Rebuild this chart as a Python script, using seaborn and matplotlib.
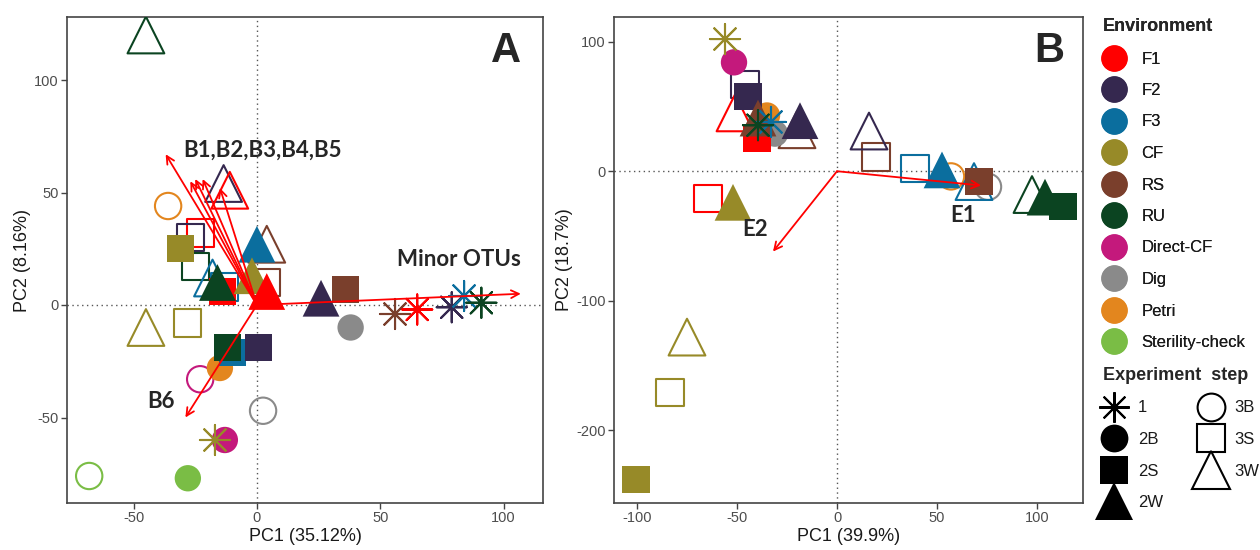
import pandas as pd
import matplotlib
matplotlib.use('Agg')
import matplotlib.pyplot as plt
import seaborn as sns
from matplotlib.lines import Line2D

# Environment levels and colours
env_names = ['F1', 'F2', 'F3', 'CF', 'RS', 'RU', 'Direct-CF', 'Dig', 'Petri', 'Sterility-check']
env_colors = ['#FF0000', '#35284F', '#0B6E9E', '#978A28', '#7A3F2C', '#0B4421',
              '#C4197C', '#8A8A8A', '#E3861E', '#7ABD45']
step_names = ['1', '2B', '2S', '2W', '3B', '3S', '3W']

# Panel A scores
a_env = ['RU', 'F2', 'F1', 'Petri', 'F1', 'F2', 'CF', 'RU', 'F3', 'RS',
         'F3', 'F3', 'F1', 'RU', 'CF', 'RS', 'F1', 'F2', 'RS', 'Dig',
         'CF', 'CF', 'F3', 'RU', 'F2', 'Petri', 'Direct-CF', 'Dig', 'CF', 'Direct-CF',
         'Sterility-check', 'Sterility-check', 'RS', 'F1', 'F2', 'F3', 'RU']
a_step = ['3W', '3W', '3W', '3B', '3S', '3S', '2S', '3S', '2W', '3W',
          '3W', '3S', '2S', '2W', '2W', '3S', '2W', '2W', '2S', '2B',
          '3W', '3S', '2S', '2S', '2S', '2B', '3B', '3B', '1', '2B',
          '3B', '2B', '1', '1', '1', '1', '1']
a_x = [-45, -13.5, -11, -36, -23, -27, -31, -25, 0, 4,
       -18, -13, -14, -16, -2, 4, 4, 26, 36, 38,
       -45, -28, -10, -12, 0.5, -15, -23, 2.5, -17, -13,
       -68, -28, 56, 65, 79, 84, 91]
a_y = [120, 54, 51, 44, 32, 30, 25, 17, 27, 27,
       12, 8, 6, 10, 13, 10, 6, 3, 7, -10,
       -10, -8, -21, -19, -19, -28, -33, -47, -60, -60,
       -76, -77, -4, -2, -1, 4, 1]

# Panel B scores
b_env = ['CF', 'Direct-CF', 'F2', 'F2', 'F1', 'RS', 'F1', 'Petri', 'Dig', 'F3',
         'RU', 'F2', 'RS', 'F2', 'RS', 'F3', 'F3', 'Petri', 'F3', 'RS',
         'Dig', 'RU', 'RU', 'RU', 'F1', 'CF', 'CF', 'CF', 'CF']
b_step = ['1', '2B', '3S', '2S', '3W', '2W', '2S', '2B', '2B', '1',
          '1', '2W', '3W', '3W', '3S', '3S', '2W', '3B', '3W', '2S',
          '3B', '3W', '2W', '2S', '3S', '2W', '3W', '3S', '2S']
b_x = [-56, -51.5, -46, -44.5, -51, -39.5, -40, -35, -31, -33,
       -39.5, -18.5, -20, 16, 19.5, 39, 52.5, 57, 68.5, 71,
       75.5, 97.5, 104, 113, -64.5, -52, -75, -83.5, -100.5]
b_y = [102, 84, 67, 58, 45, 41, 25, 43, 29, 38,
       35.5, 39, 32, 31, 11, 2, 1, -4, -8, -8,
       -12, -18, -20, -27, -21, -24, -128, -171, -238]

# Loading arrows
a_arrow_x = [-37, -27, -25, -22, -15, -29, 107]
a_arrow_y = [67, 55, 56, 56, 52, -50, 5]
b_arrow_x = [72, -32]
b_arrow_y = [-11, -62]

a_labels = ['B1,B2,B3,B4,B5', 'B6', 'Minor OTUs']
a_label_x = [-30, -39, 82]
a_label_y = [69, -43, 20]
b_labels = ['E1', 'E2']
b_label_x = [63, -41]
b_label_y = [-34, -45]

palette = dict(zip(env_names, env_colors))

ASTER = (8, 2, 0)
step_style = {
    '1': dict(marker=ASTER, s=470, kind='line'),
    '2B': dict(marker='o', s=360, kind='filled'),
    '2S': dict(marker='s', s=380, kind='filled'),
    '2W': dict(marker='^', s=700, kind='filled'),
    '3B': dict(marker='o', s=360, kind='open'),
    '3S': dict(marker='s', s=380, kind='open'),
    '3W': dict(marker='^', s=700, kind='open'),
}
draw_order = ['3B', '3S', '3W', '2B', '2S', '2W', '1']

sns.set_style('white')
plt.rcParams['font.family'] = ['Liberation Sans', 'DejaVu Sans']
plt.rcParams['axes.unicode_minus'] = False

fig = plt.figure(figsize=(12.6, 5.5), dpi=100)
axA = fig.add_axes([67 / 1260, 1 - 503 / 550, 476 / 1260, 486 / 550])
axB = fig.add_axes([614 / 1260, 1 - 503 / 550, 469 / 1260, 486 / 550])


def draw_panel(ax, env, step, xs, ys):
    df = pd.DataFrame({'env': env, 'step': step, 'x': xs, 'y': ys})
    for st in draw_order:
        sub = df[df['step'] == st]
        if sub.empty:
            continue
        sty = step_style[st]
        sns.scatterplot(data=sub, x='x', y='y', hue='env', palette=palette,
                        marker=sty['marker'], s=sty['s'],
                        linewidth=0 if sty['kind'] == 'filled' else 1.5,
                        legend=False, ax=ax, zorder=3)
        coll = ax.collections[-1]
        if sty['kind'] != 'filled':
            fc = coll.get_facecolors().copy()
            coll.set_edgecolors(fc)
            coll.set_facecolors('none')
            coll.set_linewidths(1.5)
        else:
            coll.set_edgecolors('none')
    ax.axhline(0, color='#555555', ls=(0, (1, 2.5)), lw=1, zorder=1)
    ax.axvline(0, color='#555555', ls=(0, (1, 2.5)), lw=1, zorder=1)


def draw_arrows(ax, ax_x, ax_y):
    for x, y in zip(ax_x, ax_y):
        ax.annotate('', xy=(x, y), xytext=(0, 0),
                    arrowprops=dict(arrowstyle='->', color='#FF0000', lw=1.3,
                                    mutation_scale=14, shrinkA=0, shrinkB=0),
                    zorder=5)


def style_axes(ax, xlabel, ylabel):
    ax.set_xlabel(xlabel, fontsize=13, color='#1a1a1a', labelpad=2)
    ax.set_ylabel(ylabel, fontsize=13, color='#1a1a1a', labelpad=2)
    ax.tick_params(axis='both', labelsize=10.5, labelcolor='#4D4D4D', color='#444444',
                   length=4, width=1, direction='out', pad=2, bottom=True, left=True)
    for sp in ax.spines.values():
        sp.set_color('#444444')
        sp.set_linewidth(1.2)
        sp.set_visible(True)


draw_panel(axA, a_env, a_step, a_x, a_y)
draw_arrows(axA, a_arrow_x, a_arrow_y)
for t, x, y in zip(a_labels, a_label_x, a_label_y):
    ha = 'left' if t.startswith('B1') else 'center'
    axA.text(x, y, t, family=['Lato', 'DejaVu Sans'], fontweight='bold', fontsize=16,
             ha=ha, va='center', zorder=6)
axA.text(101, 113, 'A', fontsize=30, fontweight='bold', ha='center', va='center')
axA.set_xlim(-77, 116)
axA.set_ylim(-88, 128)
axA.set_xticks([-50, 0, 50, 100])
axA.set_yticks([-50, 0, 50, 100])
style_axes(axA, 'PC1 (35.12%)', 'PC2 (8.16%)')

draw_panel(axB, b_env, b_step, b_x, b_y)
draw_arrows(axB, b_arrow_x, b_arrow_y)
for t, x, y in zip(b_labels, b_label_x, b_label_y):
    axB.text(x, y, t, family=['Lato', 'DejaVu Sans'], fontweight='bold', fontsize=16,
             ha='center', va='center', zorder=6)
axB.text(106, 93, 'B', fontsize=30, fontweight='bold', ha='center', va='center')
axB.set_xlim(-111.5, 123)
axB.set_ylim(-256, 119)
axB.set_xticks([-100, -50, 0, 50, 100])
axB.set_yticks([-200, -100, 0, 100])
style_axes(axB, 'PC1 (39.9%)', 'PC2 (18.7%)')

# Legends
env_handles = [Line2D([], [], ls='', marker='o', markersize=19, markerfacecolor=c,
                      markeredgewidth=0) for c in env_colors]
leg1 = fig.legend(env_handles, env_names, title='Environment', loc='upper left',
                  bbox_to_anchor=(1088 / 1260, 1 - 3 / 550), frameon=False,
                  fontsize=12, labelspacing=0.99, handlelength=1.3, handletextpad=1.0,
                  title_fontproperties={'weight': 'bold', 'size': 13}, alignment='left',
                  labelcolor='#1a1a1a')
fig.add_artist(leg1)

step_handles = []
for st in step_names:
    sty = step_style[st]
    ms = {'o': 20, 's': 20.5, '^': 27}.get(sty['marker'], 22)
    if sty['kind'] == 'filled':
        h = Line2D([], [], ls='', marker=sty['marker'], markersize=ms, markerfacecolor='black',
                   markeredgewidth=0)
    else:
        h = Line2D([], [], ls='', marker=sty['marker'], markersize=ms, markerfacecolor='none',
                   markeredgecolor='black', markeredgewidth=1.5, color='black')
    step_handles.append(h)
leg2 = fig.legend(step_handles, step_names, title='Experiment  step', loc='upper left',
                  bbox_to_anchor=(1088 / 1260, 1 - 352 / 550), frameon=False, ncol=2,
                  fontsize=12, labelspacing=0.99, handlelength=1.3, handletextpad=0.8,
                  columnspacing=2.2,
                  title_fontproperties={'weight': 'bold', 'size': 13}, alignment='left',
                  labelcolor='#1a1a1a')

fig.savefig('out.png', dpi=100)
